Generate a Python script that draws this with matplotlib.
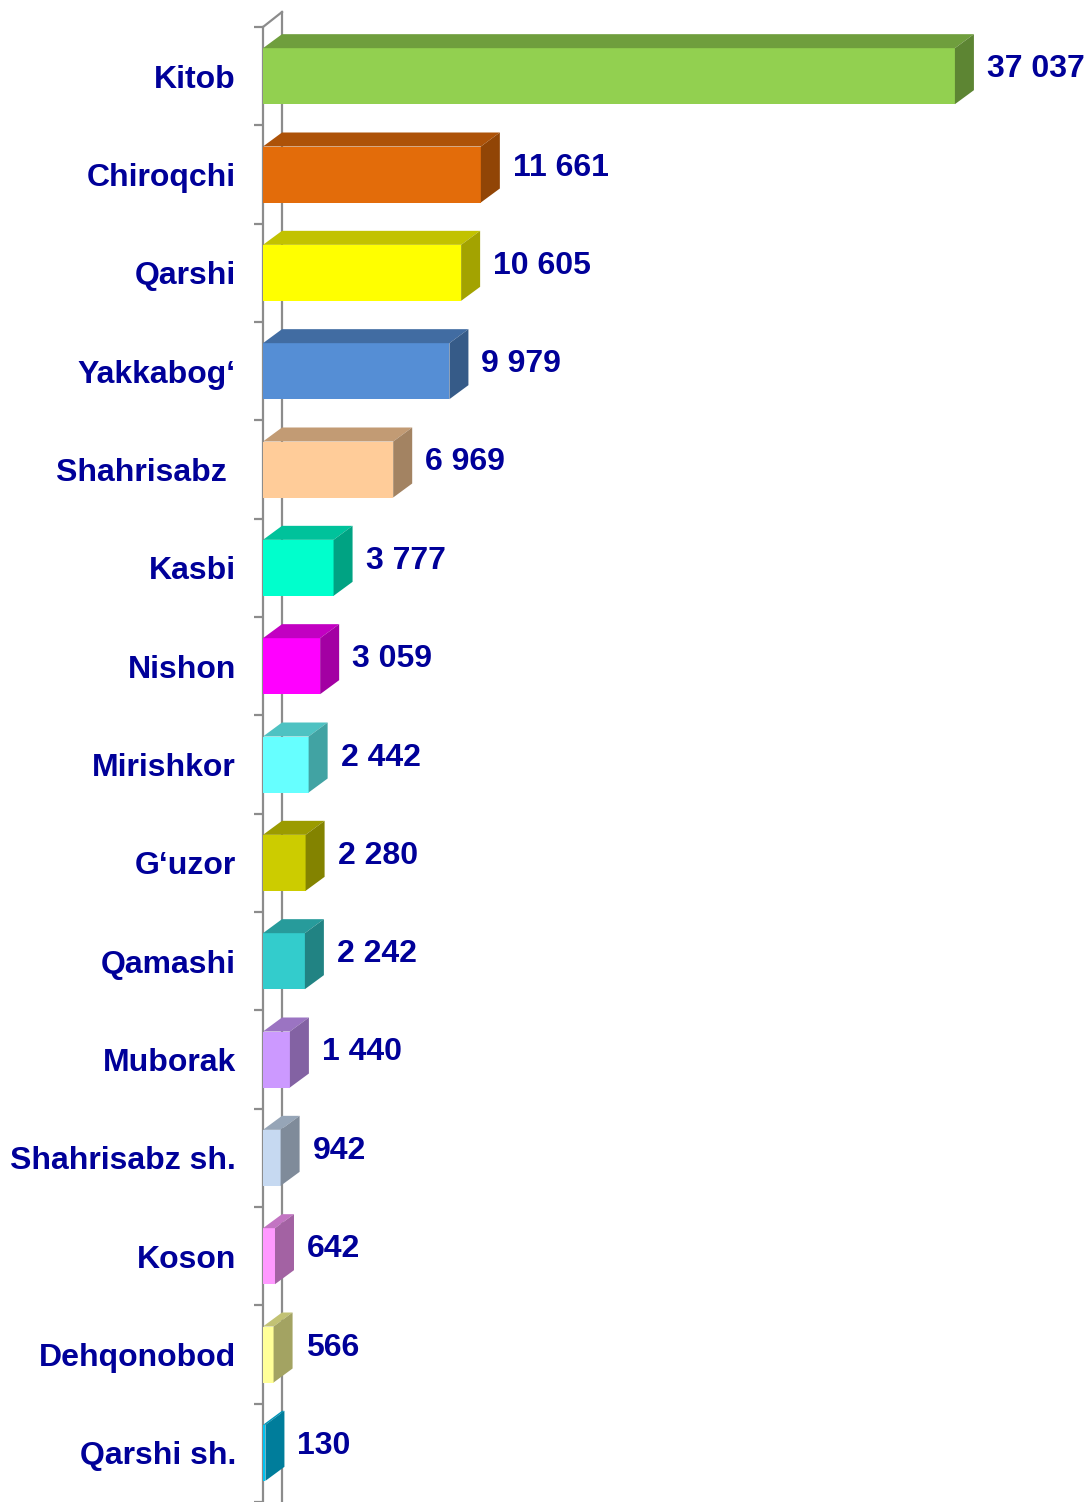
import matplotlib
matplotlib.use("Agg")
import matplotlib.pyplot as plt
from matplotlib.patches import Polygon
from matplotlib.colors import to_rgb

categories = ["Kitob", "Chiroqchi", "Qarshi", "Yakkabog‘", "Shahrisabz ", "Kasbi", "Nishon",
              "Mirishkor", "G‘uzor", "Qamashi", "Muborak", "Shahrisabz sh.", "Koson",
              "Dehqonobod", "Qarshi sh."]
values = [37037, 11661, 10605, 9979, 6969, 3777, 3059, 2442, 2280, 2242, 1440, 942, 642, 566, 130]
front_colors = ["#92D050", "#E36C0A", "#FFFF00", "#558ED5", "#FFCC99", "#00FFCC", "#FF00FF",
                "#66FFFF", "#CCCC00", "#33CCCC", "#CC99FF", "#C6D9F1", "#FF99FF",
                "#FFFF99", "#00C4F2"]

TEXT_COLOR = "#000099"
WALL_COLOR = "#8C8C8C"
FONT = "Liberation Sans"
FS = 23

W, H, DPI = 1085, 1502, 100
fig = plt.figure(figsize=(W / DPI, H / DPI), dpi=DPI)
left_px, top_px = 263, 27
ax = fig.add_axes([left_px / W, 0, (W - left_px) / W, (H - top_px) / H])
XMAX = 44000
n = len(categories)
ax.set_xlim(0, XMAX)
ax.set_ylim(n, 0)

px_per_x = (W - left_px) / XMAX
px_per_y = (H - top_px) / n
DX = 19 / px_per_x
DY = 14 / px_per_y
BAR_H = 56 / px_per_y


def shade(c, f):
    r, g, b = to_rgb(c)
    return (r * f, g * f, b * f)


# wall (back line and diagonals)
ax.plot([DX, DX], [-DY * 15 / 14, n], color=WALL_COLOR, lw=1.6, clip_on=False, zorder=1)
ax.plot([0, DX], [0, -DY * 15 / 14], color=WALL_COLOR, lw=1.6, clip_on=False, zorder=1)

centers = [i + 0.5 for i in range(n)]
for yc, v, c in zip(centers, values, front_colors):
    ax.barh(yc, v, height=BAR_H, color=c, edgecolor="none", zorder=3)
    yt = yc - BAR_H / 2
    yb = yc + BAR_H / 2
    top = Polygon([(0, yt), (v, yt), (v + DX, yt - DY), (DX, yt - DY)],
                  closed=True, facecolor=shade(c, 0.76), edgecolor="none", zorder=3)
    side = Polygon([(v, yt), (v + DX, yt - DY), (v + DX, yb - DY), (v, yb)],
                   closed=True, facecolor=shade(c, 0.64), edgecolor="none", zorder=3)
    ax.add_patch(top)
    ax.add_patch(side)
    label = f"{v:,}".replace(",", " ")
    ax.text(v + DX + 13 / px_per_x, yc - 7 / px_per_y, label, ha="left", va="center",
            fontsize=FS, fontweight="bold", color=TEXT_COLOR, family=FONT, zorder=5)

# axes: left spine is the front wall line
for s in ["top", "right", "bottom"]:
    ax.spines[s].set_visible(False)
ax.spines["left"].set_color(WALL_COLOR)
ax.spines["left"].set_linewidth(1.6)
ax.spines["left"].set_zorder(1)
ax.set_xticks([])
ax.set_yticks(centers)
ax.set_yticklabels(categories)
ax.set_yticks(list(range(n + 1)), minor=True)
ax.tick_params(axis="y", which="major", length=0, pad=19.5)
ax.tick_params(axis="y", which="minor", length=6.5, width=1.6, color=WALL_COLOR)
for t in ax.get_yticklabels():
    t.set_fontsize(FS)
    t.set_fontweight("bold")
    t.set_color(TEXT_COLOR)
    t.set_family(FONT)
ax.patch.set_visible(False)

fig.savefig("out.png", dpi=DPI, facecolor="white")
